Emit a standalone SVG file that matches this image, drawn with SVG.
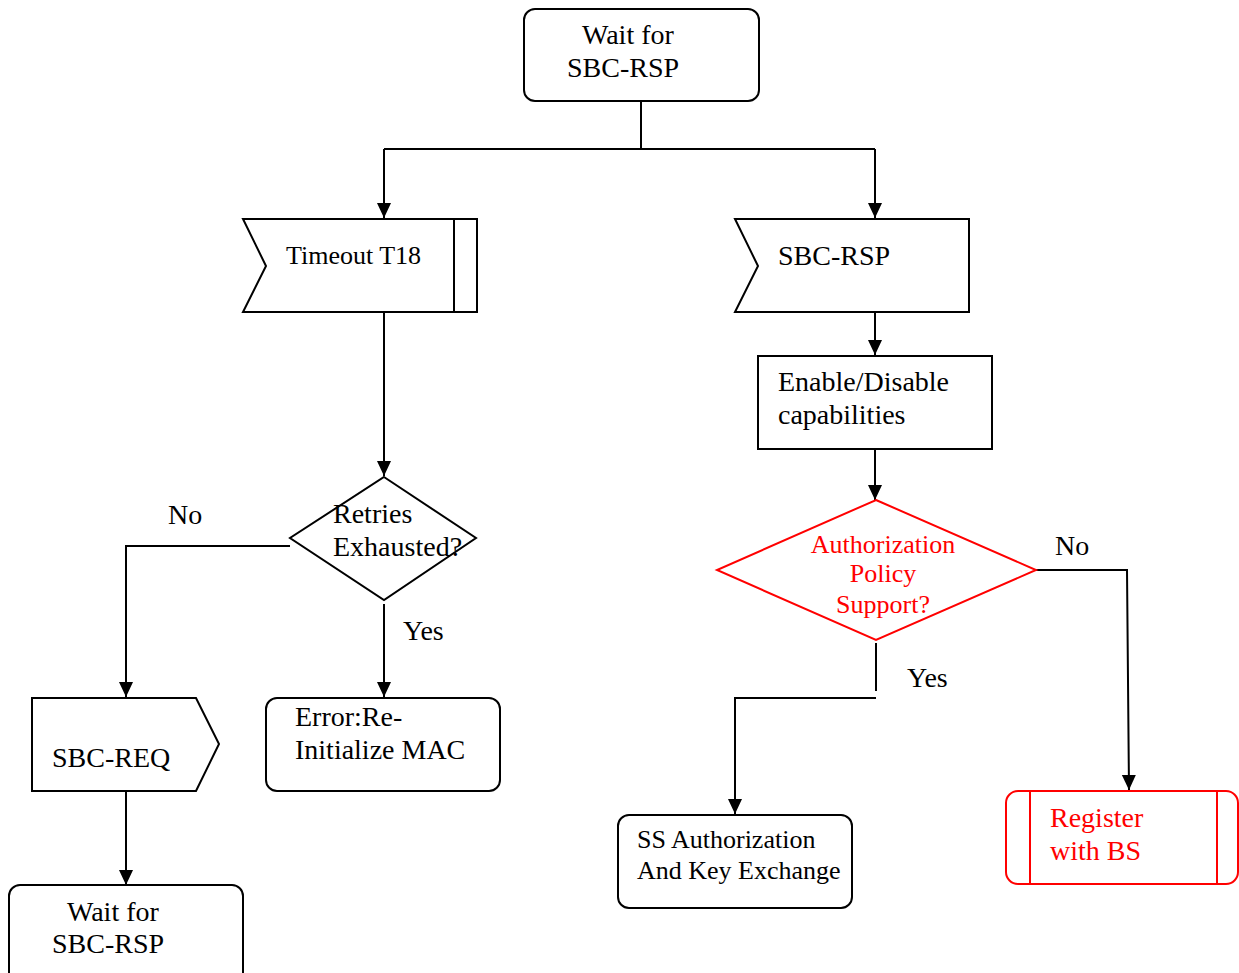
<svg xmlns="http://www.w3.org/2000/svg" width="1239" height="973" viewBox="0 0 1239 973">
<style>
.s{fill:#fff;stroke:#000;stroke-width:2}
.r{fill:#fff;stroke:#f00;stroke-width:2}
.t{font-family:"Liberation Serif","Times New Roman",serif;font-size:28px;fill:#000}
.m{font-size:26px}
.red{fill:#f00}
.c{fill:none;stroke:#000;stroke-width:2}
</style>
<defs>
<marker id="a" markerUnits="userSpaceOnUse" markerWidth="16" markerHeight="16" refX="15" refY="7" orient="auto">
<path d="M0,0 L15,7 L0,14 z" fill="#000"/>
</marker>
</defs>
<g id="connectors">
<path class="c" d="M641,101 V149"/>
<path class="c" d="M384,149 H875"/>
<path class="c" d="M384,149 V218" marker-end="url(#a)"/>
<path class="c" d="M875,149 V218" marker-end="url(#a)"/>
<path class="c" d="M384,312 V476" marker-end="url(#a)"/>
<path class="c" d="M290,546 H126 V697" marker-end="url(#a)"/>
<path class="c" d="M384,604 V697" marker-end="url(#a)"/>
<path class="c" d="M126,791 V885" marker-end="url(#a)"/>
<path class="c" d="M875,312 V355" marker-end="url(#a)"/>
<path class="c" d="M875,449 V500" marker-end="url(#a)"/>
<path class="c" d="M1036,570 H1127 L1129,790" marker-end="url(#a)"/>
<path class="c" d="M876,643 V691"/>
<path class="c" d="M876,698 H735 V814" marker-end="url(#a)"/>
<text class="t" x="168" y="524">No</text>
<text class="t" x="403" y="640">Yes</text>
<text class="t" x="1055" y="555">No</text>
<text class="t" x="907" y="687">Yes</text>
</g>
<g id="wait-top">
<rect class="s" x="524" y="9" width="235" height="92" rx="11"/>
<text class="t" x="582" y="44">Wait for</text>
<text class="t" x="567" y="77">SBC-RSP</text>
</g>
<g id="timeout">
<path class="s" d="M243,219 H477 V312 H243 L266,266 Z"/>
<path class="c" d="M454,219 V312"/>
<text class="t m" x="286" y="264">Timeout T18</text>
</g>
<g id="sbc-rsp">
<path class="s" d="M735,219 H969 V312 H735 L758,266 Z"/>
<text class="t" x="778" y="265">SBC-RSP</text>
</g>
<g id="enable">
<rect class="s" x="758" y="356" width="234" height="93"/>
<text class="t" x="778" y="391">Enable/Disable</text>
<text class="t" x="778" y="424">capabilities</text>
</g>
<g id="retries">
<path class="s" d="M384,477 L476,538 L384,600 L290,538 Z"/>
<text class="t" x="333" y="523">Retries</text>
<text class="t" x="333" y="556">Exhausted?</text>
</g>
<g id="auth-policy">
<path class="r" d="M876,500 L1036,570 L876,640 L717,570 Z"/>
<text class="t m red" x="883" y="553" text-anchor="middle">Authorization</text>
<text class="t m red" x="883" y="582" text-anchor="middle">Policy</text>
<text class="t m red" x="883" y="613" text-anchor="middle">Support?</text>
</g>
<g id="sbc-req">
<path class="s" d="M32,698 H196 L219,744 L196,791 H32 Z"/>
<text class="t" x="52" y="767">SBC-REQ</text>
</g>
<g id="wait-bottom">
<rect class="s" x="9" y="885" width="234" height="100" rx="11"/>
<text class="t" x="67" y="921">Wait for</text>
<text class="t" x="52" y="953">SBC-RSP</text>
</g>
<g id="error">
<rect class="s" x="266" y="698" width="234" height="93" rx="11"/>
<text class="t" x="295" y="726">Error:Re-</text>
<text class="t" x="295" y="759">Initialize MAC</text>
</g>
<g id="ss-auth">
<rect class="s" x="618" y="815" width="234" height="93" rx="11"/>
<text class="t m" x="637" y="848">SS Authorization</text>
<text class="t m" x="637" y="879">And Key Exchange</text>
</g>
<g id="register">
<rect class="r" x="1006" y="791" width="232" height="93" rx="12"/>
<path d="M1030,791 V884 M1217,791 V884" stroke="#f00" stroke-width="2" fill="none"/>
<text class="t red" x="1050" y="827">Register</text>
<text class="t red" x="1050" y="860">with BS</text>
</g>
</svg>
